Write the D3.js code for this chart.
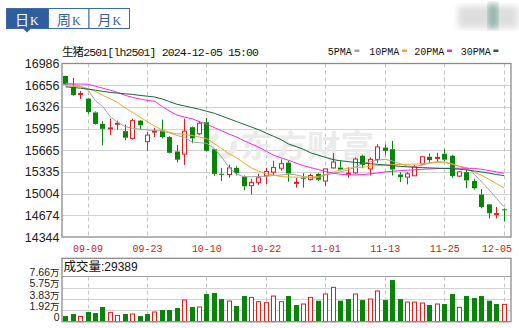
<!DOCTYPE html>
<html><head><meta charset="utf-8">
<script src="https://cdn.jsdelivr.net/npm/d3@7"></script>
<style>html,body{margin:0;padding:0;background:#fff;}svg{display:block;}</style>
</head><body>
<svg id="c" width="519" height="328"></svg>
<script>
const dates = ["09-04","09-05","09-06","09-09","09-10","09-11","09-12","09-13","09-18","09-19","09-20","09-23","09-24","09-25","09-26","09-27","09-30","10-08","10-09","10-10","10-11","10-14","10-15","10-16","10-17","10-18","10-21","10-22","10-23","10-24","10-25","10-28","10-29","10-30","10-31","11-01","11-04","11-05","11-06","11-07","11-08","11-11","11-12","11-13","11-14","11-15","11-18","11-19","11-20","11-21","11-22","11-25","11-26","11-27","11-28","11-29","12-02","12-03","12-04","12-05"];
const opens  = [16796,16631,16520,16451,16241,16066,15996,16066,15956,15846,16116,15796,15946,15966,15866,15646,15606,16016,15916,16091,15681,15306,15296,15396,15266,15126,15176,15276,15331,15391,15476,15166,15246,15221,15306,15196,15396,15401,15306,15321,15581,15381,15526,15706,15681,15296,15256,15276,15456,15566,15541,15611,15581,15271,15331,15196,14991,14841,14691,14766];
const highs  = [16800,16766,16566,16460,16256,16106,16146,16116,16056,16146,16126,15946,16006,16131,15880,15746,16146,16026,16106,16156,15686,15396,15446,15421,15281,15231,15306,15396,15506,15526,15506,15246,15316,15306,15321,15386,15621,15506,15406,15556,15596,15556,15756,15756,15806,15331,15331,15441,15581,15616,15626,15681,15596,15346,15371,15231,15076,14846,14801,14781];
const lows   = [16656,16496,16446,16221,16056,15741,15896,15976,15816,15826,15986,15656,15866,15846,15616,15481,15441,15771,15896,15646,15276,15196,15246,15281,15056,14991,15141,15151,15281,15356,15186,15096,15096,15206,15196,15121,15386,15356,15246,15306,15391,15281,15471,15596,15281,15181,15146,15276,15446,15476,15491,15496,15246,15256,15086,15066,14781,14626,14626,14581];
const closes = [16666,16506,16530,16246,16066,15991,16006,16076,15856,16116,16046,15896,15956,15866,15626,15521,15956,15846,16076,15656,15306,15296,15396,15316,15116,15176,15246,15341,15401,15461,15311,15176,15236,15281,15216,15381,15486,15371,15316,15531,15441,15526,15716,15656,15371,15256,15306,15416,15566,15516,15556,15521,15271,15336,15206,15086,14801,14706,14700,14751];
const volumes = [9600,13000,9000,16400,14700,24900,15800,10700,13000,13000,9600,13000,16400,19800,19800,23200,36700,24900,24900,46900,48600,38400,35000,26600,43500,41200,33900,32200,43500,33900,43500,28250,29950,41250,35600,46900,58200,35600,38400,46900,36700,38400,52000,36700,70600,38400,33300,33300,31600,28250,29950,29950,46900,24300,43500,40100,43500,35600,29950,29389];
const ma5  = [16681,16670,16640,16582,16420,16328,16176,16090,16024,16000,15985,15973,15965,15958,15930,15890,15860,15790,15780,15770,15690,15560,15400,15300,15262,15262,15265,15270,15280,15288,15300,15290,15265,15245,15250,15288,15310,15338,15364,15414,15460,15490,15515,15527,15500,15460,15425,15420,15440,15470,15491,15480,15450,15420,15400,15300,15180,15060,14930,14805];
const ma10 = [16646,16640,16630,16606,16560,16500,16450,16390,16310,16240,16170,16100,16030,15975,15935,15917,15905,15890,15865,15841,15765,15688,15610,15550,15470,15395,15345,15308,15285,15265,15257,15255,15257,15258,15265,15300,15333,15365,15394,15400,15408,15420,15432,15440,15445,15450,15452,15455,15462,15470,15480,15486,15460,15420,15380,15330,15283,15220,15155,15090];
const ma20 = [16674,16674,16674,16670,16640,16610,16580,16545,16502,16470,16445,16425,16410,16330,16260,16200,16170,16145,16100,16060,16010,15960,15910,15867,15810,15760,15710,15650,15588,15550,15512,15470,15430,15400,15370,15340,15315,15300,15290,15290,15295,15305,15320,15335,15345,15355,15362,15368,15374,15380,15385,15390,15391,15391,15391,15388,15375,15355,15335,15315];
const ma30 = [16631,16620,16610,16596,16580,16562,16545,16535,16525,16515,16500,16488,16475,16445,16404,16364,16340,16314,16288,16258,16228,16186,16144,16102,16060,16018,15976,15926,15876,15825,15760,15720,15680,15623,15590,15555,15522,15505,15492,15480,15470,15460,15450,15440,15430,15420,15412,15405,15400,15396,15392,15388,15385,15375,15365,15350,15335,15315,15295,15280];
const yTicks = [16986,16656,16326,15995,15665,15335,15004,14674,14344];
const xTickDates = ["09-09","09-23","10-10","10-22","11-01","11-13","11-25","12-05"];
const volTicks = [0,19200,38300,57500,76600];
const volTickLabels = ["0","1.92万","3.83万","5.75万","7.66万"];
const maNames = ["5PMA","10PMA","20PMA","30PMA"];
const tabs = ["日","周","月"];
const title = "生猪2501[lh2501] 2024-12-05 15:00";
const volTitle = "成交量";
const lastVolume = "29389";

const RED = "#e01e1e", GREEN = "#078507";
const maColors = ["#a3a3a3","#e9aa2c","#ee2aee","#17683a"];

const svg = d3.select("#c");
const L = 62, R = 511, T = 63.5, B = 237;
const x = d3.scaleBand().domain(dates).range([L, L + 60*7.43]).paddingInner(0);
const cxf = d => x(d) + x.bandwidth()/2;
const y = d3.scaleLinear().domain([14344, 16986]).range([B, T]);
const VT = 258.3, VB = 321.7, VG = 276.5;
const vy = d3.scaleLinear().domain([0, 76600]).range([VB, VG]);

// blurred logo top right
const defs = svg.append("defs");
defs.append("filter").attr("id","blur").append("feGaussianBlur").attr("stdDeviation",3);
svg.append("rect").attr("x",458).attr("y",6).attr("width",60).attr("height",22).attr("fill","#dedede").attr("filter","url(#blur)");
svg.append("rect").attr("x",488).attr("y",4).attr("width",10).attr("height",24).attr("fill","#8fb5ac").attr("filter","url(#blur)");

// tabs
const tabG = svg.append("g");
const tabX = [6, 48, 88.5, 129];
tabs.forEach((t,i)=>{
  tabG.append("rect").attr("x",tabX[i]+0.5).attr("y",8.5).attr("width",tabX[i+1]-tabX[i]).attr("height",20)
    .attr("fill", i===0 ? "#2e5e9e" : "#fff").attr("stroke","#3f6aa6").attr("stroke-width",1);
  const tx = tabG.append("text").attr("x",tabX[i]+9).attr("y",24.5).attr("fill", i===0?"#fff":"#2e5e9e");
  tx.append("tspan").attr("font-family","Noto Sans CJK SC").attr("font-size","14px").text(t);
  tx.append("tspan").attr("font-family","Liberation Serif").attr("font-size","12px").attr("dx",1).text("K");
});
tabG.append("path").attr("d","M23,28.5L31,28.5L27,32.5Z").attr("fill","#2e5e9e");

// title
svg.append("text").attr("x",62).attr("y",55.5).attr("font-family","Liberation Mono, Noto Sans CJK SC")
  .attr("font-size","11.5px").attr("fill","#111").attr("textLength",197).attr("lengthAdjust","spacing").text(title);

// legend
const legX = [327.7, 369.3, 414.3, 460.7];
maNames.forEach((n,i)=>{
  const w = n.length*6;
  svg.append("text").attr("x",legX[i]).attr("y",55).attr("font-family","Liberation Mono").attr("font-size","11px")
    .attr("fill","#111").attr("textLength",w).attr("lengthAdjust","spacingAndGlyphs").text(n);
  svg.append("rect").attr("x",legX[i]+w+2.7).attr("y",49.5).attr("width",5).attr("height",2.5).attr("fill",maColors[i]);
});

// main grid
svg.append("g").selectAll("line").data(yTicks.slice(1,-1)).join("line")
  .attr("x1",L).attr("x2",R).attr("y1",d=>Math.round(y(d))+0.5).attr("y2",d=>Math.round(y(d))+0.5)
  .attr("stroke","#d3d3d3");
svg.append("g").selectAll("line").data(xTickDates).join("line")
  .attr("x1",d=>Math.floor(cxf(d))+0.5).attr("x2",d=>Math.floor(cxf(d))+0.5).attr("y1",T).attr("y2",B)
  .attr("stroke","#c4c4c4").attr("stroke-dasharray","4,3");

// watermark
svg.append("path").attr("transform","translate(223,145)")
  .attr("d", d3.arc()({innerRadius:8,outerRadius:14,startAngle:0.4*Math.PI,endAngle:1.85*Math.PI}))
  .attr("fill","#ececec");
svg.append("text").attr("x",240).attr("y",157).attr("font-family","Noto Sans CJK SC").attr("font-size","31px")
  .attr("font-weight","bold").attr("fill","#ebebeb").attr("textLength",134).attr("lengthAdjust","spacingAndGlyphs").text("东方财富");

// y labels
svg.append("g").selectAll("text").data(yTicks).join("text")
  .attr("x",59.5).attr("y",d=>y(d)).attr("dy","0.36em").attr("text-anchor","end")
  .attr("font-family","Liberation Sans").attr("font-size","12.5px").attr("fill","#222").text(d=>d);

// x labels
svg.append("g").selectAll("text").data(xTickDates).join("text")
  .attr("x",(d,i)=> i===xTickDates.length-1 ? 512 : cxf(d))
  .attr("y",251.5).attr("text-anchor",(d,i)=> i===xTickDates.length-1 ? "end":"middle")
  .attr("font-family","Liberation Mono").attr("font-size","11px").attr("fill","#c41c1c")
  .attr("textLength",30).attr("lengthAdjust","spacingAndGlyphs").text(d=>d);

// candles
const cg = svg.append("g");
dates.forEach((d,i)=>{
  const o=opens[i], c=closes[i], h=highs[i], l=lows[i];
  const up = c > o;
  const col = up ? RED : GREEN;
  const cx = Math.floor(cxf(d));
  const top = y(Math.max(o,c)), bot = y(Math.min(o,c));
  cg.append("line").attr("x1",cx+0.5).attr("x2",cx+0.5).attr("y1",y(h)).attr("y2",top).attr("stroke",col);
  cg.append("line").attr("x1",cx+0.5).attr("x2",cx+0.5).attr("y1",bot).attr("y2",y(l)).attr("stroke",col);
  const hgt = Math.max(1, bot-top);
  if (up) {
    cg.append("rect").attr("x",cx-1.5).attr("y",top).attr("width",4).attr("height",hgt)
      .attr("fill","#fff").attr("stroke",col).attr("stroke-width",1);
  } else {
    cg.append("rect").attr("x",cx-2).attr("y",top).attr("width",5).attr("height",hgt).attr("fill",col);
  }
});

// MA lines
[ma5,ma10,ma20,ma30].forEach((arr,k)=>{
  svg.append("path").datum(arr).attr("fill","none").attr("stroke",maColors[k]).attr("stroke-width",1)
    .attr("d", d3.line().x((v,i)=>cxf(dates[i])).y(v=>y(v)));
});

// main frame
svg.append("rect").attr("x",L).attr("y",T).attr("width",R-L).attr("height",B-T)
  .attr("fill","none").attr("stroke","#8c8c8c").attr("stroke-width",1.3);

// volume panel
svg.append("g").selectAll("line").data(volTicks.slice(1,-1)).join("line")
  .attr("x1",L).attr("x2",R).attr("y1",d=>Math.round(vy(d))+0.5).attr("y2",d=>Math.round(vy(d))+0.5).attr("stroke","#d3d3d3");
svg.append("line").attr("x1",L).attr("x2",R).attr("y1",VG).attr("y2",VG).attr("stroke","#a0a0a0");
svg.append("g").selectAll("line").data(xTickDates).join("line")
  .attr("x1",d=>Math.floor(cxf(d))+0.5).attr("x2",d=>Math.floor(cxf(d))+0.5).attr("y1",VG).attr("y2",VB)
  .attr("stroke","#c4c4c4").attr("stroke-dasharray","4,3");
const vg = svg.append("g");
dates.forEach((d,i)=>{
  const up = i===0 ? closes[i] > opens[i] : closes[i] > closes[i-1];
  const col = up ? RED : GREEN;
  const cx = Math.floor(cxf(d));
  const t = vy(volumes[i]);
  if (up) {
    vg.append("rect").attr("x",cx-1.5).attr("y",t).attr("width",4).attr("height",VB-t)
      .attr("fill","#fff").attr("stroke",col).attr("stroke-width",1);
  } else {
    vg.append("rect").attr("x",cx-2).attr("y",t).attr("width",5).attr("height",VB-t).attr("fill",col);
  }
});
svg.append("rect").attr("x",L).attr("y",VT).attr("width",R-L).attr("height",VB-VT)
  .attr("fill","none").attr("stroke","#8c8c8c").attr("stroke-width",1.3);
const vt = svg.append("text").attr("x",63.5).attr("y",270.5).attr("fill","#111");
vt.append("tspan").attr("font-family","Noto Sans CJK SC").attr("font-size","12.5px").text(volTitle);
vt.append("tspan").attr("font-family","Liberation Sans").attr("font-size","12px").text(":" + lastVolume);
// volume axis labels: number part + unit part, kept compact so they do not collide
const vl = svg.append("g").selectAll("text").data(volTicks).join("text")
  .attr("x",59.5).attr("y",d=>vy(d)-0.5).attr("text-anchor","end")
  .attr("font-family","Liberation Sans").attr("font-size","10.5px").attr("fill","#222");
vl.each(function(d,i){
  const lab = volTickLabels[i];
  const t = d3.select(this);
  if (lab.endsWith("万")) {
    t.append("tspan").text(lab.slice(0,-1));
    t.append("tspan").attr("font-family","Noto Sans CJK SC").attr("font-size","9.5px").text("万");
  } else {
    t.text(lab);
  }
});
</script>
</body></html>
